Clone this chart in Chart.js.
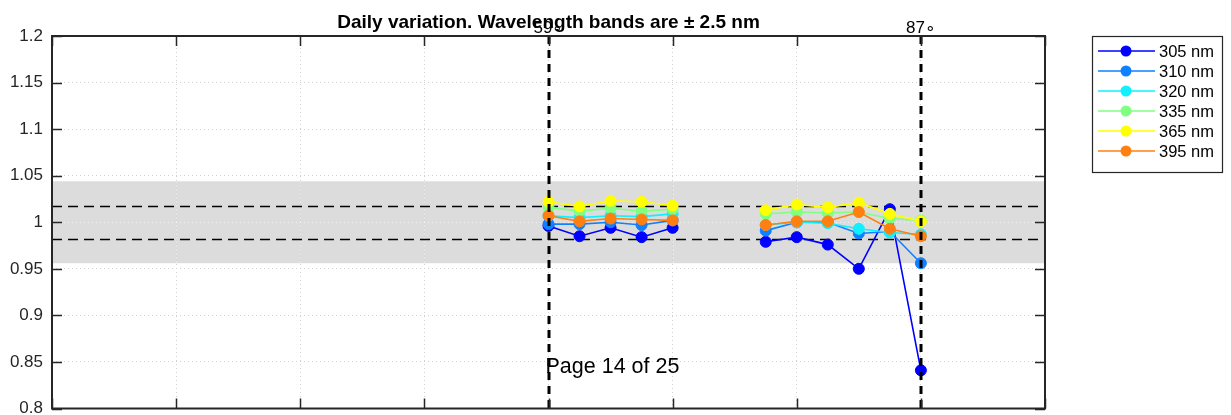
<!DOCTYPE html>
<html>
<head>
<meta charset="utf-8">
<script src="https://cdn.jsdelivr.net/npm/chart.js@4/dist/chart.umd.min.js"></script>
<style>
  html, body { margin: 0; padding: 0; background: #fff; overflow: hidden; }
  canvas { display: block; }
</style>
</head>
<body>
<canvas id="daily" width="1231" height="415"></canvas>
<script>
// x positions of the measurements (axis units); null splits the two runs
const xValues = [4, 4.25, 4.5, 4.75, 5, null, 5.75, 6, 6.25, 6.5, 6.75, 7];

const wavelengths = ['305 nm', '310 nm', '320 nm', '335 nm', '365 nm', '395 nm'];
const lineColors = ['#0000ff', '#0f80ff', '#10f0ff', '#80ff80', '#ffff00', '#ff8010'];

const ratio305 = [0.996, 0.985, 0.994, 0.984, 0.994, null, 0.979, 0.984, 0.976, 0.950, 1.014, 0.841];
const ratio310 = [0.998, 0.998, 1.000, 0.997, 1.002, null, 0.991, 1.000, 1.000, 0.988, 0.990, 0.956];
const ratio320 = [1.007, 1.005, 1.007, 1.006, 1.009, null, 0.997, 1.000, 0.999, 0.993, 0.989, 0.987];
const ratio335 = [1.016, 1.012, 1.015, 1.012, 1.014, null, 1.009, 1.011, 1.010, 1.011, 1.004, 1.002];
const ratio365 = [1.022, 1.017, 1.023, 1.022, 1.018, null, 1.013, 1.019, 1.016, 1.021, 1.009, 1.001];
const ratio395 = [1.007, 1.001, 1.004, 1.003, 1.002, null, 0.997, 1.001, 1.001, 1.011, 0.993, 0.985];
const ratios = [ratio305, ratio310, ratio320, ratio335, ratio365, ratio395];

// tolerance band and limit lines
const bandLimits = [0.956, 1.044];
const limitLines = [0.9825, 1.0175];

// solar zenith angle markers
const sunX = [4, 7];
const sunLabels = ['59\u2218', '87\u2218'];

const yTicks = { min: 0.8, max: 1.2, step: 0.05 };
const xTicks = { min: 0, max: 8, step: 1 };

const FONT = '"Liberation Sans", Arial, Helvetica, sans-serif';
const AXIS = '#262626';

// later wavelengths are plotted on top
const datasets = wavelengths.map((w, i) => ({
    label: w,
    data: xValues.map((x, j) => ({ x: x, y: ratios[i][j] })),
    order: wavelengths.length - i,
    borderColor: lineColors[i],
    backgroundColor: lineColors[i],
    borderWidth: 1.6,
    pointRadius: 5.5,
    pointBorderWidth: 1,
    pointHoverRadius: 5.5,
    showLine: true,
    spanGaps: false,
    tension: 0
}));

const decorations = {
    id: 'decorations',
    beforeDraw(chart) {
        const { ctx, chartArea: a, scales: { y } } = chart;
        ctx.save();
        ctx.fillStyle = '#dcdcdc';
        const top = y.getPixelForValue(bandLimits[1]);
        const bot = y.getPixelForValue(bandLimits[0]);
        ctx.fillRect(a.left, top, a.right - a.left, bot - top);
        ctx.restore();
    },
    beforeDatasetsDraw(chart) {
        const { ctx, chartArea: a, scales: { x, y } } = chart;
        ctx.save();
        // lighter dotted grid inside the grey band
        const top = y.getPixelForValue(bandLimits[1]);
        const bot = y.getPixelForValue(bandLimits[0]);
        ctx.beginPath();
        ctx.rect(a.left, top, a.right - a.left, bot - top);
        ctx.clip();
        ctx.strokeStyle = '#f2f2f2';
        ctx.lineWidth = 1;
        ctx.setLineDash([1, 3]);
        ctx.beginPath();
        for (let v = xTicks.min; v <= xTicks.max + 1e-9; v += xTicks.step) {
            const px = Math.round(x.getPixelForValue(v)) + 0.5;
            ctx.moveTo(px, top); ctx.lineTo(px, bot);
        }
        for (let v = yTicks.min; v <= yTicks.max + 1e-9; v += yTicks.step) {
            const py = Math.round(y.getPixelForValue(v)) + 0.5;
            ctx.moveTo(a.left, py); ctx.lineTo(a.right, py);
        }
        ctx.stroke();
        ctx.restore();

        ctx.save();
        ctx.strokeStyle = '#000';
        ctx.lineWidth = 1.6;
        ctx.setLineDash([10, 6]);
        limitLines.forEach(v => {
            const py = Math.round(y.getPixelForValue(v)) + 0.5;
            ctx.beginPath();
            ctx.moveTo(a.left, py);
            ctx.lineTo(a.right, py);
            ctx.stroke();
        });
        ctx.restore();
    },
    afterDatasetsDraw(chart) {
        const { ctx, chartArea: a, scales: { x, y } } = chart;
        ctx.save();
        // zenith angle lines
        ctx.strokeStyle = '#000';
        ctx.lineWidth = 3;
        ctx.setLineDash([8, 6]);
        sunX.forEach(v => {
            const px = Math.round(x.getPixelForValue(v));
            ctx.beginPath();
            ctx.moveTo(px, a.top);
            ctx.lineTo(px, a.bottom);
            ctx.stroke();
        });
        ctx.setLineDash([]);

        // axes box with inward ticks
        ctx.strokeStyle = AXIS;
        ctx.lineWidth = 2;
        ctx.strokeRect(a.left, a.top, a.right - a.left, a.bottom - a.top);
        ctx.lineWidth = 1.5;
        const len = 10;
        ctx.beginPath();
        for (let v = xTicks.min; v <= xTicks.max + 1e-9; v += xTicks.step) {
            const px = Math.round(x.getPixelForValue(v)) + 0.5;
            ctx.moveTo(px, a.top); ctx.lineTo(px, a.top + len);
            ctx.moveTo(px, a.bottom); ctx.lineTo(px, a.bottom - len);
        }
        for (let v = yTicks.min; v <= yTicks.max + 1e-9; v += yTicks.step) {
            const py = Math.round(y.getPixelForValue(v)) + 0.5;
            ctx.moveTo(a.left, py); ctx.lineTo(a.left + len, py);
            ctx.moveTo(a.right, py); ctx.lineTo(a.right - len, py);
        }
        ctx.stroke();
        ctx.restore();
    },
    afterDraw(chart) {
        const { ctx, chartArea: a, scales: { x } } = chart;
        ctx.save();
        ctx.fillStyle = '#000';

        // title
        ctx.font = 'bold 19px ' + FONT;
        ctx.textAlign = 'center';
        ctx.textBaseline = 'alphabetic';
        ctx.fillText('Daily variation. Wavelength bands are \u00B1 2.5 nm', (a.left + a.right) / 2, 28);

        // zenith labels
        ctx.font = '17px ' + FONT;
        sunX.forEach((v, i) => {
            ctx.fillText(sunLabels[i], x.getPixelForValue(v), 33);
        });

        // page note
        ctx.font = '21.5px ' + FONT;
        ctx.textAlign = 'left';
        ctx.fillText('Page 14 of 25', x.getPixelForValue(4) - 3, 373);

        // legend
        const lx = 1092, ly = 36, lw = 130, lh = 136;
        ctx.fillStyle = '#fff';
        ctx.fillRect(lx, ly, lw, lh);
        ctx.strokeStyle = AXIS;
        ctx.lineWidth = 1.2;
        ctx.strokeRect(lx + 0.5, ly + 0.5, lw, lh);
        ctx.font = '16.5px ' + FONT;
        ctx.textBaseline = 'middle';
        wavelengths.forEach((w, i) => {
            const ey = ly + 15 + i * 20;
            ctx.strokeStyle = lineColors[i];
            ctx.lineWidth = 1.6;
            ctx.beginPath();
            ctx.moveTo(lx + 6, ey);
            ctx.lineTo(lx + 63, ey);
            ctx.stroke();
            ctx.fillStyle = lineColors[i];
            ctx.beginPath();
            ctx.arc(lx + 34, ey, 5.5, 0, Math.PI * 2);
            ctx.fill();
            ctx.fillStyle = '#000';
            ctx.fillText(w, lx + 67, ey + 1);
        });
        ctx.restore();
    }
};

new Chart(document.getElementById('daily'), {
    type: 'scatter',
    data: { datasets: datasets },
    options: {
        responsive: false,
        animation: false,
        devicePixelRatio: 1,
        layout: { padding: { left: 0, right: 186, top: 36, bottom: 0 } },
        plugins: { legend: { display: false }, tooltip: { enabled: false }, title: { display: false } },
        scales: {
            x: {
                type: 'linear',
                min: xTicks.min, max: xTicks.max,
                ticks: { display: false, stepSize: xTicks.step },
                grid: { color: '#d0d0d0', lineWidth: 1, drawTicks: false },
                border: { display: false, dash: [1, 3] },
                afterFit: s => { s.height = 5; s.paddingLeft = 0; s.paddingRight = 0; }
            },
            y: {
                min: yTicks.min, max: yTicks.max,
                ticks: {
                    stepSize: yTicks.step,
                    padding: 9,
                    color: AXIS,
                    font: { family: FONT, size: 17 },
                    callback: v => String(+v.toFixed(2))
                },
                grid: { color: '#d0d0d0', lineWidth: 1, drawTicks: false },
                border: { display: false, dash: [1, 3] },
                afterFit: s => { s.width = 52; s.paddingTop = 0; s.paddingBottom = 0; }
            }
        }
    },
    plugins: [decorations]
});
</script>
</body>
</html>
